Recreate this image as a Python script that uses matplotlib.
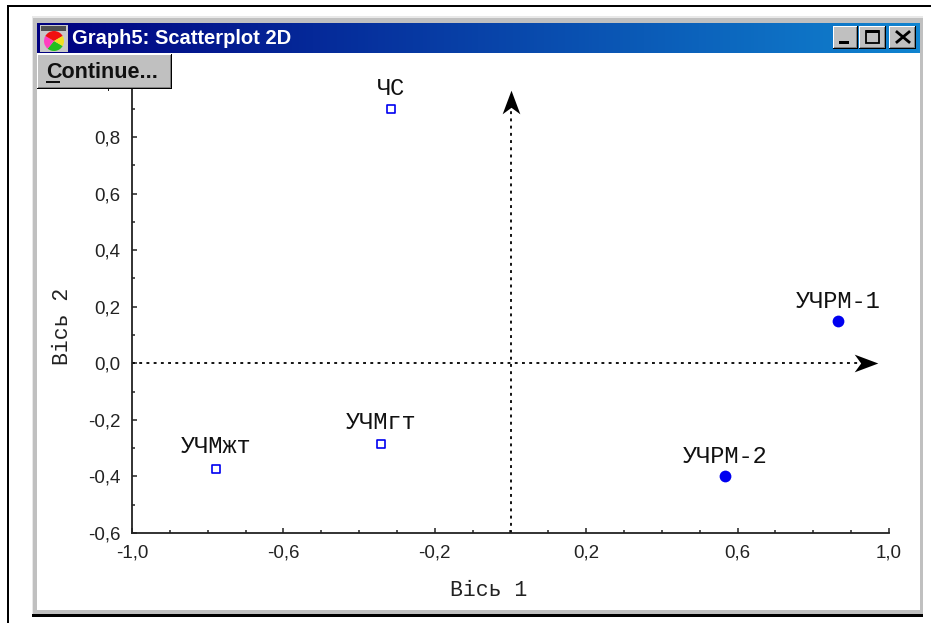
"""
plot.py
-------
Scatterplot 2D in an old Windows program window. Saved to out.png.
"""

import numpy as np
import matplotlib
matplotlib.use("Agg")
import matplotlib.pyplot as plt
from matplotlib.patches import Rectangle, Wedge
from matplotlib.path import Path

# --- Data ---
open_names = ["ЧС", "УЧМгт", "УЧМжт"]
open_x = [-0.316, -0.342, -0.778]
open_y = [0.899, -0.287, -0.372]

solid_names = ["УЧРМ-1", "УЧРМ-2"]
solid_x = [0.865, 0.567]
solid_y = [0.149, -0.400]

x_ticks = [-1.0, -0.6, -0.2, 0.2, 0.6, 1.0]
y_ticks = [-0.6, -0.4, -0.2, 0.0, 0.2, 0.4, 0.6, 0.8, 1.0]
# the 1,0 label is covered by the Continue button in the picture
y_labels = ["-0,6", "-0,4", "-0,2", "0,0", "0,2", "0,4", "0,6", "0,8", ""]

W, H = 931, 623
BLUE = "#0000f0"
MONO = "Liberation Mono"
SANS = "Liberation Sans"

fig = plt.figure(figsize=(W / 100, H / 100), dpi=100, facecolor="white")


def px_axes(left, top, right, bottom, zorder):
    """Axes placed by pixel box (y measured from the top of the image)."""
    return fig.add_axes(
        [left / W, 1 - bottom / H, (right - left) / W, (bottom - top) / H],
        zorder=zorder,
    )


def rect(a, x0, y0, x1, y1, color, z=1):
    a.add_patch(Rectangle((x0, y0), x1 - x0, y1 - y0, fc=color, ec="none", zorder=z))


def raised(a, x0, y0, x1, y1):
    """Windows 95 style raised button."""
    rect(a, x0, y0, x1, y1, "#000000", 3)
    rect(a, x0, y0, x1 - 1, y1 - 1, "#ffffff", 3)
    rect(a, x0 + 1, y0 + 1, x1 - 1, y1 - 1, "#808080", 3)
    rect(a, x0 + 1, y0 + 1, x1 - 2, y1 - 2, "#c0c0c0", 3)


# ================================================================
# Window behind the plot
# ================================================================
bg = px_axes(0, 0, W, H, 0)
bg.set_xlim(0, W)
bg.set_ylim(H, 0)
bg.axis("off")

# black frame of the scanned page
rect(bg, 7, 5, W, 7, "#000000")
rect(bg, 7, 5, 9, H, "#000000")

# window frame
rect(bg, 32, 16, 923, 617, "#e8e8e8")
rect(bg, 33, 18, 923, 614, "#c0c0c0")
rect(bg, 37, 23, 920, 610, "#ffffff", 2)
rect(bg, 32, 614, 923, 617, "#000000", 2)

# title bar gradient
bar = px_axes(37, 23, 920, 53, 0.5)
bar.imshow(
    np.linspace(0, 1, 256).reshape(1, -1, 1)
    * (np.array([16, 132, 208]) - np.array([0, 0, 128])).reshape(1, 1, 3) / 255
    + np.array([0, 0, 128]).reshape(1, 1, 3) / 255,
    aspect="auto",
)
bar.axis("off")

# ================================================================
# The plot
# ================================================================
ax = px_axes(132, 80.5, 889, 533, 1)
ax.patch.set_alpha(0)
ax.set_xlim(-1.0, 1.0)
ax.set_ylim(-0.6, 1.0)

for side in ["top", "right"]:
    ax.spines[side].set_visible(False)
for side in ["left", "bottom"]:
    ax.spines[side].set_linewidth(1.3)
    ax.spines[side].set_color("#222222")

ax.set_xticks(x_ticks)
ax.set_yticks(y_ticks)
ax.set_xticklabels([f"{v:.1f}".replace(".", ",") for v in x_ticks],
                   family=SANS, fontsize=13.5, color="#222222")
ax.set_yticklabels(y_labels, family=SANS, fontsize=13.5, color="#222222")
ax.set_xticks(np.arange(-0.9, 1.0, 0.1), minor=True)
ax.set_yticks(np.arange(-0.5, 1.0, 0.2), minor=True)
ax.tick_params(which="major", direction="in", length=3.5, width=1.1, color="#222222")
ax.tick_params(which="minor", direction="in", length=2.2, width=1.1, color="#222222")
ax.tick_params(axis="x", which="major", pad=8)
ax.tick_params(axis="y", which="major", pad=8.5)

ax.set_xlabel("Вісь 1", family=MONO, fontsize=15.5, color="#222222")
ax.set_ylabel("Вісь 2", family=MONO, fontsize=15.5, color="#222222")
ax.xaxis.set_label_coords(0.4715, -0.1045)
ax.yaxis.set_label_coords(-0.0775, 0.457)

# dotted cross through the origin, with arrow heads
ax.plot([-1.0, 0.955], [0, 0], color="black", lw=1.3, ls=(0, (1.6, 2.4)), zorder=2)
ax.plot([0, 0], [-0.6, 0.955], color="black", lw=1.3, ls=(0, (1.6, 2.4)), zorder=2)

head_right = Path([(1, 0), (-1, 0.75), (-0.45, 0), (-1, -0.75), (1, 0)],
                  [Path.MOVETO, Path.LINETO, Path.LINETO, Path.LINETO, Path.CLOSEPOLY])
head_up = Path([(0, 1), (0.75, -1), (0, -0.45), (-0.75, -1), (0, 1)],
               [Path.MOVETO, Path.LINETO, Path.LINETO, Path.LINETO, Path.CLOSEPOLY])
ax.plot([0.939], [0], marker=head_right, ms=17, color="black", mew=0, zorder=3)
ax.plot([0], [0.925], marker=head_up, ms=17, color="black", mew=0, zorder=3)

# points
ax.scatter(open_x, open_y, marker="s", s=26, facecolor="white",
           edgecolor=BLUE, linewidth=1.2, zorder=4)
ax.scatter(solid_x, solid_y, marker="o", s=72, color=BLUE, linewidth=0, zorder=4)

# point labels, offsets in points above each marker
label_lift = [14.5, 16, 16, 14, 14.5]
for name, x, y, lift in zip(open_names + solid_names, open_x + solid_x,
                            open_y + solid_y, label_lift):
    ax.annotate(name, (x, y), xytext=(0, lift), textcoords="offset points",
                ha="center", va="center", family=MONO, fontsize=17, color="#111111")

# ================================================================
# Controls on top of the plot
# ================================================================
top = px_axes(0, 0, W, H, 2)
top.set_xlim(0, W)
top.set_ylim(H, 0)
top.axis("off")
top.patch.set_alpha(0)

# title bar contents
top.text(72, 38.5, "Graph5: Scatterplot 2D", family=SANS, fontweight="bold",
         fontsize=14.5, color="white", va="center", ha="left", zorder=5)

rect(top, 40, 25, 68, 52, "#c8c8c8", 3)
rect(top, 41, 26, 66, 31, "#505050", 4)
for start, end, col in [(30, 130, "#20c020"), (130, 210, "#ff40c0"),
                        (210, 330, "#f01010"), (330, 390, "#f0e020")]:
    top.add_patch(Wedge((54, 41), 10, start, end, fc=col, ec="none", zorder=5))

# minimise, maximise, close
raised(top, 833, 26, 858, 49)
raised(top, 859, 26, 886, 49)
raised(top, 889, 26, 916, 49)
rect(top, 839, 41, 849, 44, "#000000", 5)
top.add_patch(Rectangle((866, 31), 13, 12, fc="none", ec="black", lw=1.3, zorder=5))
rect(top, 866, 30, 879, 33, "#000000", 5)
top.plot([897, 909], [32, 42], color="black", lw=2, zorder=5)
top.plot([897, 909], [42, 32], color="black", lw=2, zorder=5)

# Continue button
raised(top, 37, 54, 172, 89)
top.text(46, 72, "Continue...", family=SANS, fontweight="bold", fontsize=15.5,
         color="#111111", va="center", ha="left", zorder=5)
rect(top, 46, 81, 60, 82.5, "#111111", 5)
# tail of the covered 1,0 label sticking out under the button
rect(top, 107.5, 89, 109, 90.5, "#222222", 5)

fig.savefig("out.png", dpi=100)
